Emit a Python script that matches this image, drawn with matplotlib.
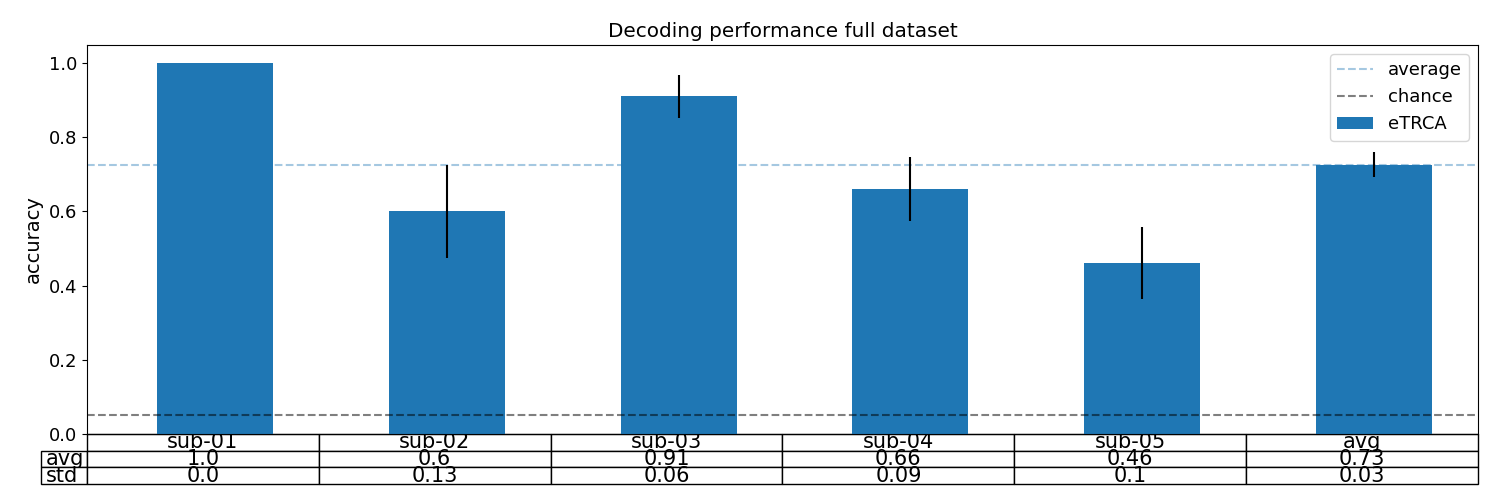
import matplotlib
matplotlib.use("Agg")
import matplotlib.pyplot as plt
import numpy as np

# per-subject decoding results (eTRCA)
subjects = ["sub-01", "sub-02", "sub-03", "sub-04", "sub-05"]
acc_mean = [1.0, 0.6, 0.91, 0.66, 0.46]
acc_std = [0.0, 0.126, 0.058, 0.086, 0.097]
avg_std = 0.034
chance = 0.05

plt.rcParams["font.size"] = 13

labels = subjects + ["avg"]
means = acc_mean + [float(np.mean(acc_mean))]
stds = acc_std + [avg_std]

fig, ax = plt.subplots(figsize=(15, 5), dpi=100)
fig.subplots_adjust(left=0.058, right=0.9853, top=0.91, bottom=0.132)

x = np.arange(len(labels))
ax.axhline(means[-1], color="C0", ls="--", alpha=0.4, label="average")
ax.axhline(chance, color="k", ls="--", alpha=0.5, label="chance")
ax.bar(x, means, width=0.5, color="C0", yerr=stds, ecolor="k",
       error_kw=dict(lw=1.5), label="eTRCA")

ax.set_xlim(-0.553, 5.449)
ax.set_ylim(0, 1.0485)
ax.set_xticks([])
ax.set_ylabel("accuracy", fontsize=14)
ax.set_title("Decoding performance full dataset", fontsize=14.4)
ax.legend(loc="upper right")

cell_text = [[str(round(v, 2)) for v in means],
             [str(round(v, 2)) for v in stds]]
tbl = ax.table(cellText=cell_text, rowLabels=["avg", "std"], colLabels=labels,
               loc="bottom", cellLoc="center", rowLoc="left", colLoc="center")
tbl.auto_set_font_size(False)
tbl.set_fontsize(15)

fig.savefig("out.png", dpi=100)
